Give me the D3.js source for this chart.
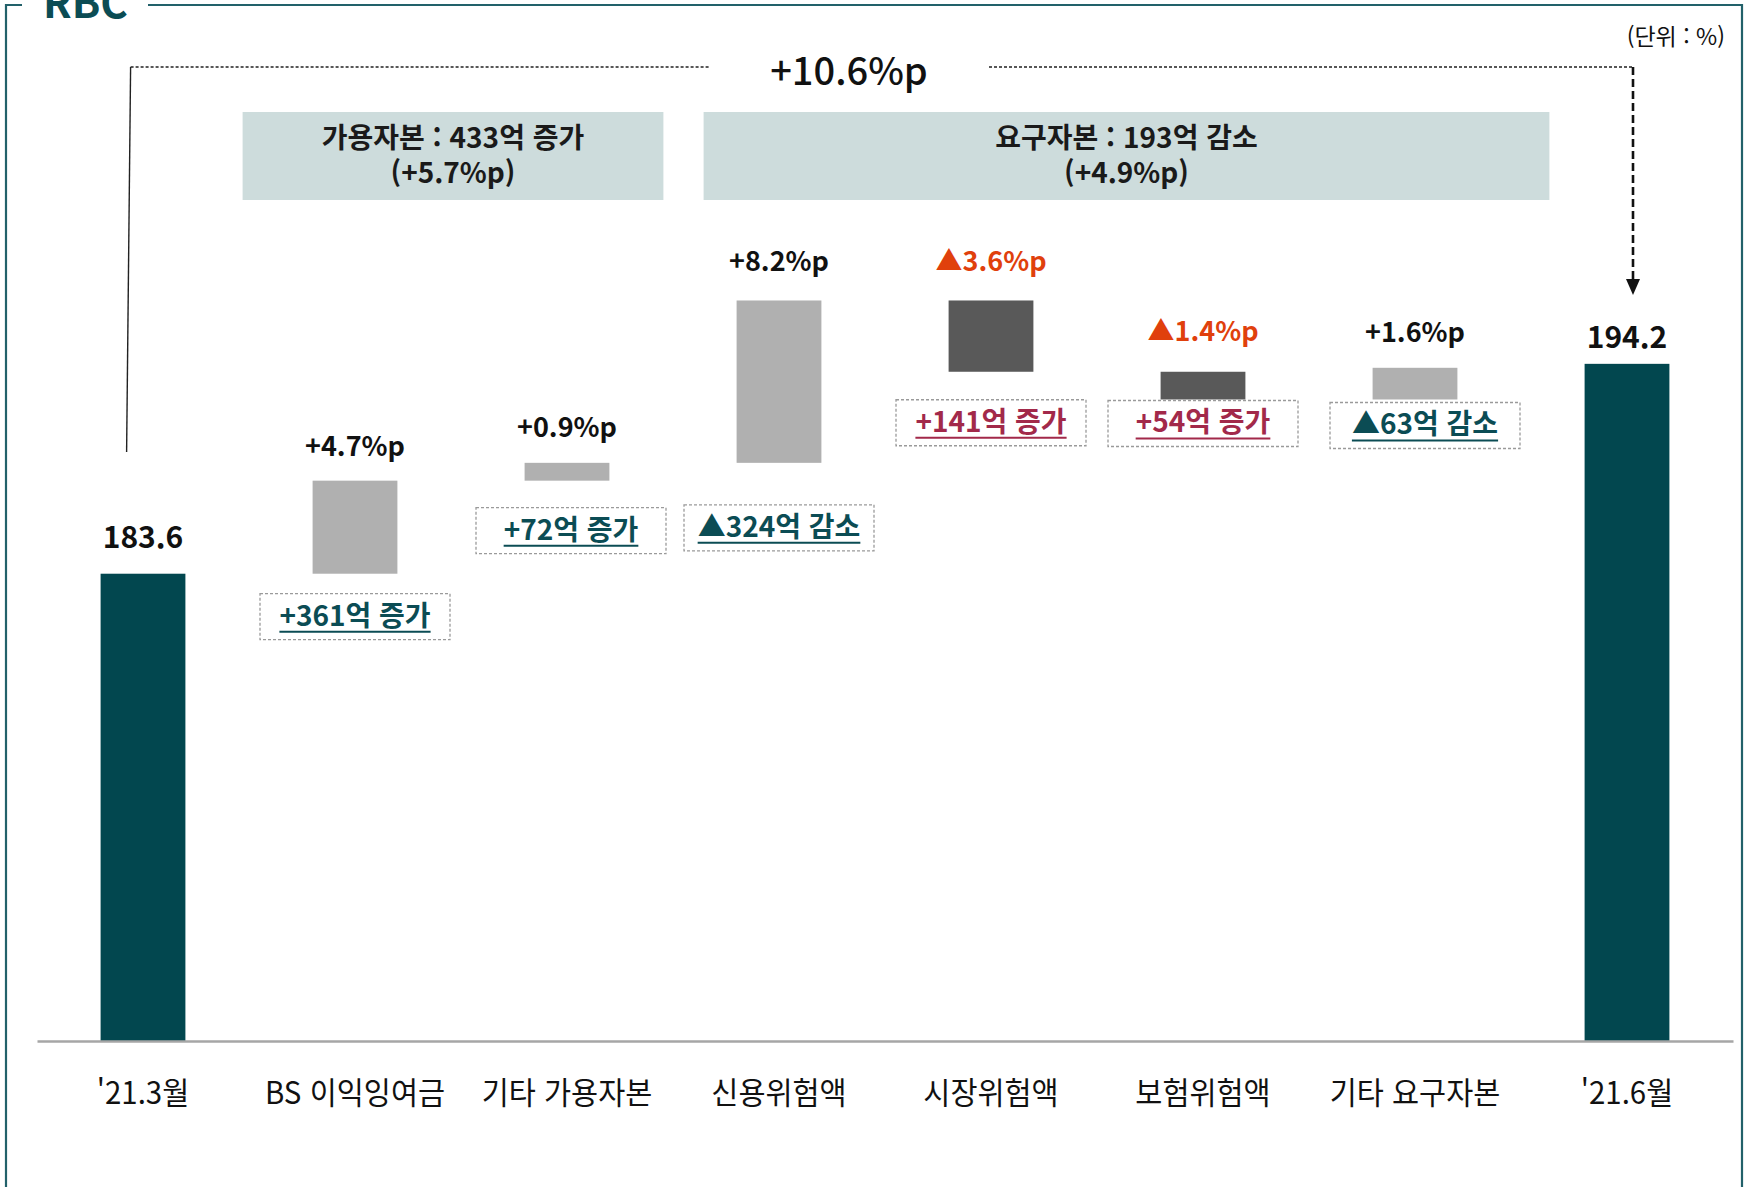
<!DOCTYPE html>
<html lang="ko">
<head>
<meta charset="utf-8">
<script src="https://cdn.jsdelivr.net/npm/d3@7"></script>
<style>
  html, body { margin: 0; padding: 0; background: #ffffff; }
  svg { display: block; }
  text { font-family: "Noto Sans CJK KR", "Noto Sans", sans-serif; }
</style>
</head>
<body>
<svg id="chart" width="1750" height="1187"></svg>
<script>
// ---- data ----
const categories = ["'21.3월", "BS 이익잉여금", "기타 가용자본", "신용위험액", "시장위험액", "보험위험액", "기타 요구자본", "'21.6월"];
const kinds = ["total", "change", "change", "change", "change", "change", "change", "total"];
const values = [183.6, 4.7, 0.9, 8.2, -3.6, -1.4, 1.6, 194.2];
const valueLabels = ["183.6", "+4.7%p", "+0.9%p", "+8.2%p", "▲3.6%p", "▲1.4%p", "+1.6%p", "194.2"];
const notes = [null, "+361억 증가", "+72억 증가", "▲324억 감소", "+141억 증가", "+54억 증가", "▲63억 감소", null];
const groupLines1 = ["가용자본 : 433억 증가", "요구자본 : 193억 감소"];
const groupLines2 = ["(+5.7%p)", "(+4.9%p)"];
const groupFrom = ["BS 이익잉여금", "신용위험액"];
const groupTo = ["기타 가용자본", "기타 요구자본"];
const totalChange = "+10.6%p";
const unitLabel = "(단위 : %)";
const title = "RBC";

// ---- layout ----
const W = 1750, H = 1187;
const base = 1041;
const noteGap = [0, 20, 27, 42, 28, 1, 3, 0];     // px between bar bottom and note box
const noteShift = [0, 0, 4, 0, 0, 0, 10, 0];      // horizontal nudge of note boxes
const labelGap = [26, 25, 26, 29, 29, 31, 26, 16]; // px between bar top and value label baseline
const groupPad = [[70, 54], [33, 92]];           // px beyond the first / last band of each group

const C = {
  teal: "#02474f",
  tealText: "#0b4c54",
  frame: "#22616a",
  up: "#b0b0b0",
  down: "#595959",
  red: "#e0400c",
  crimson: "#a2294a",
  groupFill: "#cddcdc",
  axis: "#a6a6a6"
};

const svg = d3.select("#chart");

const x = d3.scaleBand()
  .domain(categories)
  .range([37, 1733])
  .paddingInner(0.6)
  .paddingOuter(0.3);

const y = d3.scaleLinear().domain([160, 200]).range([base, 249]);
const yMin = y.domain()[0];

// waterfall geometry
let level = 0;
const bars = categories.map((c, i) => {
  const v = values[i];
  let from, to;
  if (kinds[i] === "total") { from = yMin; to = v; level = v; }
  else { from = level; to = level + v; level = to; }
  return { c, i, v, kind: kinds[i], lo: Math.min(from, to), hi: Math.max(from, to) };
});

// ---- frame ----
svg.append("path")
  .attr("d", `M22,5 H6 V${H + 5}`)
  .attr("fill", "none").attr("stroke", C.frame).attr("stroke-width", 2.2);
svg.append("path")
  .attr("d", `M148,5 H1742 V${H + 5}`)
  .attr("fill", "none").attr("stroke", C.frame).attr("stroke-width", 2.2);
svg.append("text")
  .attr("x", 43).attr("y", 18)
  .attr("font-size", 42).attr("font-weight", 700)
  .attr("fill", C.tealText)
  .text(title);

svg.append("text")
  .attr("x", 1725).attr("y", 45)
  .attr("text-anchor", "end")
  .attr("font-size", 23).attr("fill", "#111")
  .text(unitLabel);

// ---- overall change bracket ----
const first = bars[0], last = bars[bars.length - 1];
const bx0 = x(first.c) + 30;
const bx1 = x(last.c) + x.bandwidth() / 2 + 6;
const by = 67;
const midX = 849, gapHalf = 140;

svg.append("line")
  .attr("x1", bx0).attr("y1", by).attr("x2", bx0 - 4).attr("y2", 452)
  .attr("stroke", "#222").attr("stroke-width", 1.4);
svg.append("line")
  .attr("x1", bx0).attr("y1", by).attr("x2", midX - gapHalf).attr("y2", by)
  .attr("stroke", "#222").attr("stroke-width", 1.3).attr("stroke-dasharray", "3,2");
svg.append("line")
  .attr("x1", midX + gapHalf).attr("y1", by).attr("x2", bx1).attr("y2", by)
  .attr("stroke", "#222").attr("stroke-width", 1.3).attr("stroke-dasharray", "3,2");
svg.append("line")
  .attr("x1", bx1).attr("y1", by).attr("x2", bx1).attr("y2", 281)
  .attr("stroke", "#111").attr("stroke-width", 2.6).attr("stroke-dasharray", "8,4");
svg.append("path")
  .attr("d", `M${bx1 - 7},279 L${bx1 + 7},279 L${bx1},295 Z`)
  .attr("fill", "#111");
svg.append("text")
  .attr("x", midX).attr("y", 85)
  .attr("text-anchor", "middle")
  .attr("font-size", 38).attr("font-weight", 500).attr("fill", "#111")
  .text(totalChange);

// ---- group summary boxes (two-line caption in one text element) ----
groupLines1.forEach((t, g) => {
  const gx0 = x(groupFrom[g]) - groupPad[g][0];
  const gx1 = x(groupTo[g]) + x.bandwidth() + groupPad[g][1];
  const cx = (gx0 + gx1) / 2;
  svg.append("rect")
    .attr("x", gx0).attr("y", 112).attr("width", gx1 - gx0).attr("height", 88)
    .attr("fill", C.groupFill);
  const cap = svg.append("text")
    .attr("x", cx).attr("y", 148).attr("text-anchor", "middle")
    .attr("font-size", 28).attr("font-weight", 700).attr("fill", "#1a1a1a");
  cap.append("tspan").attr("x", cx).attr("y", 148).text(t);
  cap.append("tspan").attr("x", cx).attr("y", 183).text(groupLines2[g]);
});

// ---- bars ----
const barColor = d => d.kind === "total" ? C.teal : (d.v >= 0 ? C.up : C.down);
svg.append("g").selectAll("rect")
  .data(bars)
  .join("rect")
  .attr("x", d => x(d.c))
  .attr("width", x.bandwidth())
  .attr("y", d => y(d.hi))
  .attr("height", d => y(d.lo) - y(d.hi))
  .attr("fill", barColor);

// ---- value labels ----
svg.append("g").selectAll("text")
  .data(bars)
  .join("text")
  .attr("x", d => x(d.c) + x.bandwidth() / 2)
  .attr("y", d => y(d.hi) - labelGap[d.i])
  .attr("text-anchor", "middle")
  .attr("font-size", d => d.kind === "total" ? 30 : 27)
  .attr("font-weight", 700)
  .attr("fill", d => d.v < 0 ? C.red : "#111")
  .text(d => valueLabels[d.i]);

// ---- notes under change bars ----
const noteW = 190, noteH = 46;
const noteG = svg.append("g");
bars.filter(d => notes[d.i]).forEach(d => {
  const cx = x(d.c) + x.bandwidth() / 2 + noteShift[d.i];
  const top = y(d.lo) + noteGap[d.i];
  const col = d.v >= 0 ? C.tealText : C.crimson;
  noteG.append("rect")
    .attr("x", cx - noteW / 2).attr("y", top)
    .attr("width", noteW).attr("height", noteH)
    .attr("fill", "#fff").attr("stroke", "#9a9a9a")
    .attr("stroke-width", 1.3).attr("stroke-dasharray", "3,2");
  const t = noteG.append("text")
    .attr("x", cx).attr("y", top + 32)
    .attr("text-anchor", "middle")
    .attr("font-size", 28).attr("font-weight", 700)
    .attr("fill", col)
    .text(notes[d.i]);
  const len = t.node().getComputedTextLength();
  noteG.append("line")
    .attr("x1", cx - len / 2).attr("x2", cx + len / 2)
    .attr("y1", top + 38).attr("y2", top + 38)
    .attr("stroke", col).attr("stroke-width", 2);
});

// ---- category axis ----
const axis = svg.append("g")
  .attr("transform", `translate(0,${base})`)
  .call(d3.axisBottom(x).tickSize(0).tickSizeOuter(0).tickPadding(41));
axis.select(".domain").attr("stroke", C.axis).attr("stroke-width", 2.6);
axis.selectAll(".tick text")
  .attr("font-family", "\"Noto Sans CJK KR\", sans-serif")
  .attr("font-size", 31)
  .attr("fill", "#111")
  .attr("transform", "scale(0.95,1)");
</script>
</body>
</html>
